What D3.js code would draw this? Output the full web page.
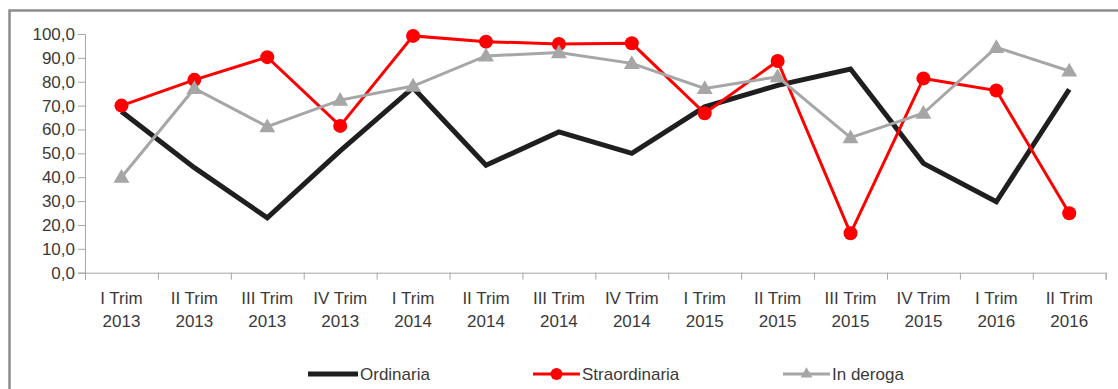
<!DOCTYPE html>
<html>
<head>
<meta charset="utf-8">
<script src="https://cdn.jsdelivr.net/npm/d3@7"></script>
<style>
  html, body { margin: 0; padding: 0; background: #fff; }
  svg { display: block; }
  text { font-family: "Liberation Sans", Arial, sans-serif; fill: #3a3a3a; }
</style>
</head>
<body>
<svg id="chart" width="1118" height="389"></svg>
<script>
// Quarter labels (two lines per category)
const quarters = ["I Trim","II Trim","III Trim","IV Trim","I Trim","II Trim","III Trim","IV Trim","I Trim","II Trim","III Trim","IV Trim","I Trim","II Trim"];
const years    = ["2013","2013","2013","2013","2014","2014","2014","2014","2015","2015","2015","2015","2016","2016"];
const categories = quarters.map((q, i) => q + " " + years[i]);

// Series values (%)
const ordinaria      = [67.5, 44.0, 23.0, 51.0, 77.5, 45.0, 59.0, 50.0, 69.5, 78.5, 85.3, 45.8, 29.7, 76.8];
const straordinaria  = [70.0, 80.8, 90.3, 61.5, 99.2, 96.8, 95.8, 96.1, 66.8, 88.7, 16.5, 81.4, 76.3, 24.9];
const inDeroga       = [40.0, 77.2, 61.2, 72.3, 78.2, 90.8, 92.2, 87.7, 77.2, 82.1, 56.6, 66.8, 94.4, 84.5];

const yTicks = [0, 10, 20, 30, 40, 50, 60, 70, 80, 90, 100];
const seriesNames = ["Ordinaria", "Straordinaria", "In deroga"];

(function () {
const svg = d3.select("#chart");

// Outer frame (runs past the right and bottom edges)
svg.append("rect")
  .attr("x", 9.5).attr("y", 10.5)
  .attr("width", 1300).attr("height", 500)
  .attr("fill", "none").attr("stroke", "#8c8c8c").attr("stroke-width", 2.5);

const plotLeft = 85, plotRight = 1105.7, plotTop = 34, plotBottom = 272.7;

const x = d3.scaleBand().domain(categories).range([plotLeft, plotRight]).padding(0);
const xIdx = d3.scaleLinear().domain([0, categories.length]).range([plotLeft, plotRight]);
const y = d3.scaleLinear().domain([0, 100]).range([plotBottom, plotTop]);

const fmt = d => d.toFixed(1).replace(".", ",");

// Y axis
const yAxis = svg.append("g")
  .attr("transform", `translate(${plotLeft},0)`)
  .call(d3.axisLeft(y).tickValues(yTicks).tickSize(7).tickPadding(3).tickFormat(fmt));
yAxis.selectAll("path, line").attr("stroke", "#a6a6a6");
yAxis.selectAll("text").attr("font-size", 17).attr("fill", "#3a3a3a")
  .attr("font-family", "Liberation Sans, Arial, sans-serif");

// X axis: ticks on category boundaries
const xAxis = svg.append("g")
  .attr("transform", `translate(0,${plotBottom})`)
  .call(d3.axisBottom(xIdx).tickValues(d3.range(0, categories.length + 1)).tickSize(7).tickFormat(""));
xAxis.selectAll("path, line").attr("stroke", "#a6a6a6");

// X axis labels (two lines, centred in each band)
const xLabels = svg.append("g")
  .attr("transform", `translate(0,${plotBottom})`)
  .call(d3.axisBottom(x).tickSize(0).tickFormat(""));
xLabels.select(".domain").remove();
xLabels.selectAll(".tick").each(function(d, i) {
  const t = d3.select(this).append("text")
    .attr("text-anchor", "middle")
    .attr("font-size", 17)
    .attr("fill", "#3a3a3a")
    .attr("font-family", "Liberation Sans, Arial, sans-serif");
  t.append("tspan").attr("x", 0).attr("y", 31).text(quarters[i]);
  t.append("tspan").attr("x", 0).attr("y", 54).text(years[i]);
});

const cx = (d, i) => x(categories[i]) + x.bandwidth() / 2;
const line = d3.line().x(cx).y(d => y(d));

// Ordinaria
svg.append("path").datum(ordinaria)
  .attr("d", line).attr("fill", "none")
  .attr("stroke", "#1f1f1f").attr("stroke-width", 5).attr("stroke-linejoin", "miter");

// Straordinaria
svg.append("path").datum(straordinaria)
  .attr("d", line).attr("fill", "none")
  .attr("stroke", "#ff0000").attr("stroke-width", 3);
svg.append("g").selectAll("circle").data(straordinaria).join("circle")
  .attr("cx", cx).attr("cy", d => y(d)).attr("r", 7).attr("fill", "#ff0000");

// In deroga
svg.append("path").datum(inDeroga)
  .attr("d", line).attr("fill", "none")
  .attr("stroke", "#a6a6a6").attr("stroke-width", 3);
const tri = d3.symbol().type(d3.symbolTriangle).size(110);
svg.append("g").selectAll("path").data(inDeroga).join("path")
  .attr("d", tri)
  .attr("transform", (d, i) => `translate(${cx(d, i)},${y(d) + 1})`)
  .attr("fill", "#a6a6a6");

// Legend
const legendY = 374;
const legend = svg.append("g");
const legendItems = [
  { name: seriesNames[0], x0: 308, x1: 358, color: "#1f1f1f", w: 5, marker: null },
  { name: seriesNames[1], x0: 533, x1: 580, color: "#ff0000", w: 3, marker: "circle" },
  { name: seriesNames[2], x0: 783, x1: 830, color: "#a6a6a6", w: 3, marker: "triangle" }
];
legendItems.forEach(it => {
  legend.append("line")
    .attr("x1", it.x0).attr("x2", it.x1).attr("y1", legendY).attr("y2", legendY)
    .attr("stroke", it.color).attr("stroke-width", it.w);
  const mx = (it.x0 + it.x1) / 2;
  if (it.marker === "circle") {
    legend.append("circle").attr("cx", mx).attr("cy", legendY).attr("r", 6).attr("fill", it.color);
  } else if (it.marker === "triangle") {
    legend.append("path").attr("d", d3.symbol().type(d3.symbolTriangle).size(60))
      .attr("transform", `translate(${mx},${legendY})`).attr("fill", it.color);
  }
  legend.append("text")
    .attr("x", it.x1 + 2).attr("y", legendY + 6)
    .attr("font-size", 17)
    .text(it.name);
});
})();
</script>
</body>
</html>
